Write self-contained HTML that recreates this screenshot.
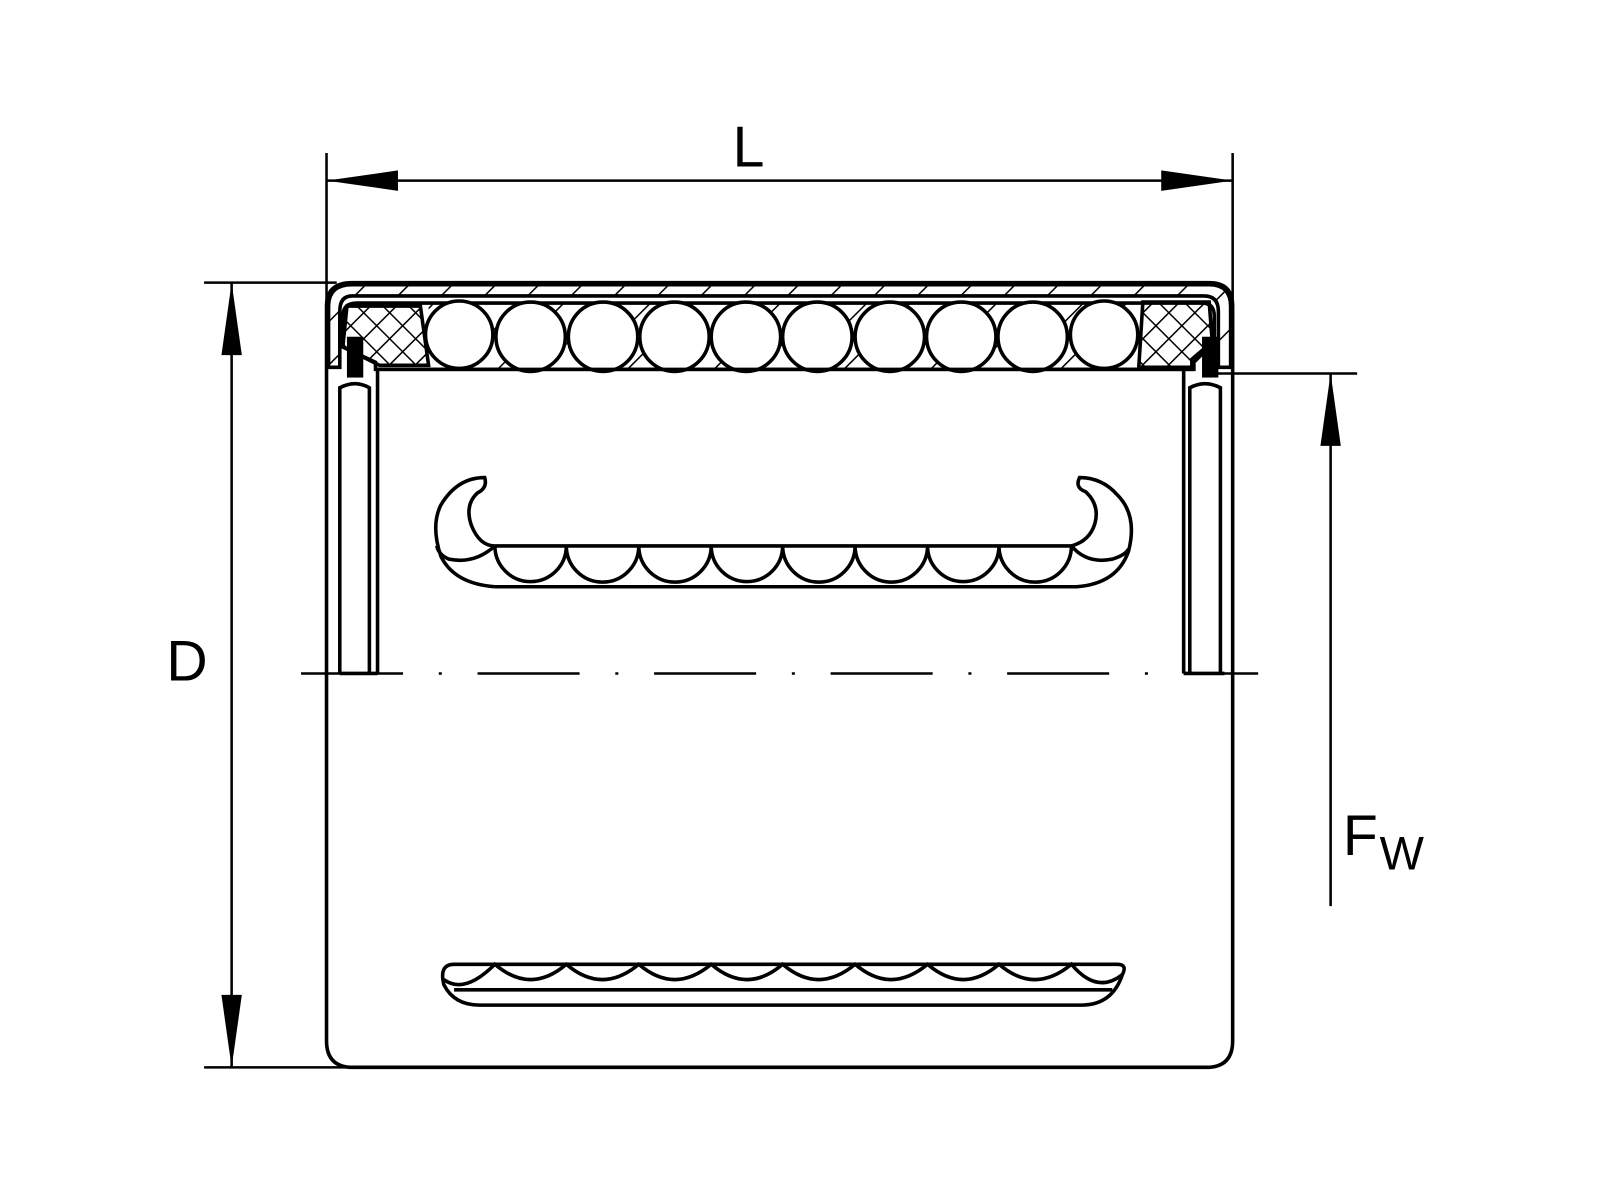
<!DOCTYPE html>
<html><head><meta charset="utf-8"><style>html,body{margin:0;padding:0;background:#fff}svg{display:block}</style></head>
<body>
<svg width="1600" height="1200" viewBox="0 0 1568 1176" xmlns="http://www.w3.org/2000/svg">
<defs>
<pattern id="h" width="30" height="30" patternUnits="userSpaceOnUse" patternTransform="rotate(45)">
<line x1="0" y1="0" x2="0" y2="30" stroke="#000" stroke-width="3"/></pattern>
<pattern id="x" width="18" height="18" patternUnits="userSpaceOnUse" patternTransform="rotate(45)">
<line x1="0" y1="0" x2="0" y2="18" stroke="#000" stroke-width="3"/><line x1="0" y1="0" x2="18" y2="0" stroke="#000" stroke-width="3"/></pattern>
</defs>
<g fill="none" stroke="#000" stroke-width="2.5">
<line x1="320" y1="150" x2="320" y2="300"/>
<line x1="1208" y1="150" x2="1208" y2="370"/>
<line x1="320" y1="177" x2="1208" y2="177"/>
<line x1="200" y1="277" x2="330" y2="277"/>
<line x1="200" y1="1046" x2="345" y2="1046"/>
<line x1="227" y1="277" x2="227" y2="1046"/>
<line x1="1190" y1="366" x2="1330" y2="366"/>
<line x1="1304" y1="366" x2="1304" y2="888"/>
<line x1="295" y1="660" x2="1233" y2="660" stroke-dasharray="100,35,3,35"/>
</g>
<g fill="#000">
<polygon points="320,177 390,167 390,187"/>
<polygon points="1208,177 1138,167 1138,187"/>
<polygon points="227,277 217,348 237,348"/>
<polygon points="227,1046 217,975 237,975"/>
<polygon points="1304,366 1294,437 1314,437"/>
</g>
<g font-family="Liberation Sans, sans-serif" font-size="56" fill="#000">
<text x="718" y="163">L</text>
<text x="163" y="667">D</text>
<text x="1316" y="838">F</text>
<text x="1352" y="852" font-size="46">W</text>
</g>
<path d="M345,277 H1185 Q1208,277 1208,300 V1020 Q1208,1046 1182,1046 H346 Q320,1046 320,1020 V300 Q320,277 345,277 Z" fill="none" stroke="#000" stroke-width="3.5"/>
<path d="M345,279 H1185 Q1206,279 1206,300 V360 H1194 V305 Q1194,290 1180,290 H345 Q333,290 333,305 V360 H322 V300 Q322,279 345,279Z" fill="url(#h)" stroke="#000" stroke-width="3.5"/>
<path d="M350,297 H1178 Q1190,297 1190,310 V335 L1170,355 V362 H368 V355 L336,340 V310 Q336,297 350,297Z" fill="#fff" stroke="#000" stroke-width="3.5"/>
<path d="M340,300 H412 L420,358 H372 L336,340 Z" fill="url(#x)" stroke="#000" stroke-width="3.5"/>
<path d="M1120,296 H1185 L1188,335 L1168,352 V360 H1116 Z" fill="url(#x)" stroke="#000" stroke-width="3.5"/>
<path d="M420,297 H1115 V362 H420Z" fill="url(#h)" stroke="none"/>
<g fill="#fff" stroke="#000" stroke-width="3.5">
<circle cx="450" cy="328" r="33"/><circle cx="520" cy="330" r="34"/><circle cx="591" cy="330" r="34"/><circle cx="661" cy="330" r="34"/><circle cx="731" cy="330" r="34"/><circle cx="801" cy="330" r="34"/><circle cx="872" cy="330" r="34"/><circle cx="942" cy="330" r="34"/><circle cx="1012" cy="330" r="34"/><circle cx="1082" cy="328" r="33"/>
</g>
<line x1="368" y1="362" x2="1170" y2="362" stroke="#000" stroke-width="3.5"/>
<g fill="none" stroke="#000" stroke-width="3.5">
<path d="M333,660 V380 Q348,372 362,380 V660"/><line x1="370" y1="362" x2="370" y2="660"/>
<path d="M1166,660 V380 Q1181,372 1196,380 V660"/><line x1="1160" y1="362" x2="1160" y2="660"/>
<line x1="333" y1="660" x2="370" y2="660"/><line x1="1160" y1="660" x2="1200" y2="660"/>
</g>
<rect x="340" y="330" width="16" height="40" fill="#000"/>
<rect x="1178" y="330" width="16" height="40" fill="#000"/>
<g fill="none" stroke="#000" stroke-width="3.5">
<line x1="485" y1="535" x2="1050" y2="535"/>
<path d="M485,535 A35,35 0 0 0 555,535 A35,35 0 0 0 626,535 A35,35 0 0 0 697,535 A35,35 0 0 0 767,535 A35,35 0 0 0 838,535 A35,35 0 0 0 909,535 A35,35 0 0 0 979,535 A35,35 0 0 0 1050,535"/>
<path d="M485,575 H1055 Q1095,572 1106,540 Q1115,505 1095,485 Q1080,468 1058,468 Q1053,478 1064,482 Q1078,495 1073,513 Q1068,530 1050,535"/>
<path d="M1050,535 Q1065,553 1090,548 Q1103,544 1106,538"/>
<path d="M485,575 Q445,572 432,545 Q422,515 432,495 Q448,468 475,468 Q478,478 468,483 Q455,495 462,515 Q470,535 485,535"/>
<path d="M485,535 Q465,553 440,548 Q430,544 428,535"/>
</g>
<g fill="none" stroke="#000" stroke-width="3.5">
<path d="M445,945 H1095 Q1105,945 1100,955 Q1090,985 1060,985 H470 Q445,985 435,965 Q430,945 445,945Z"/>
<line x1="445" y1="970" x2="1090" y2="970"/>
<path d="M435,960 Q455,975 485,945 Q520,975 555,945 Q590,975 626,945 Q661,975 697,945 Q732,975 767,945 Q802,975 838,945 Q873,975 909,945 Q944,975 979,945 Q1014,975 1050,945 Q1075,975 1100,955"/>
</g>
</svg>
</body></html>
